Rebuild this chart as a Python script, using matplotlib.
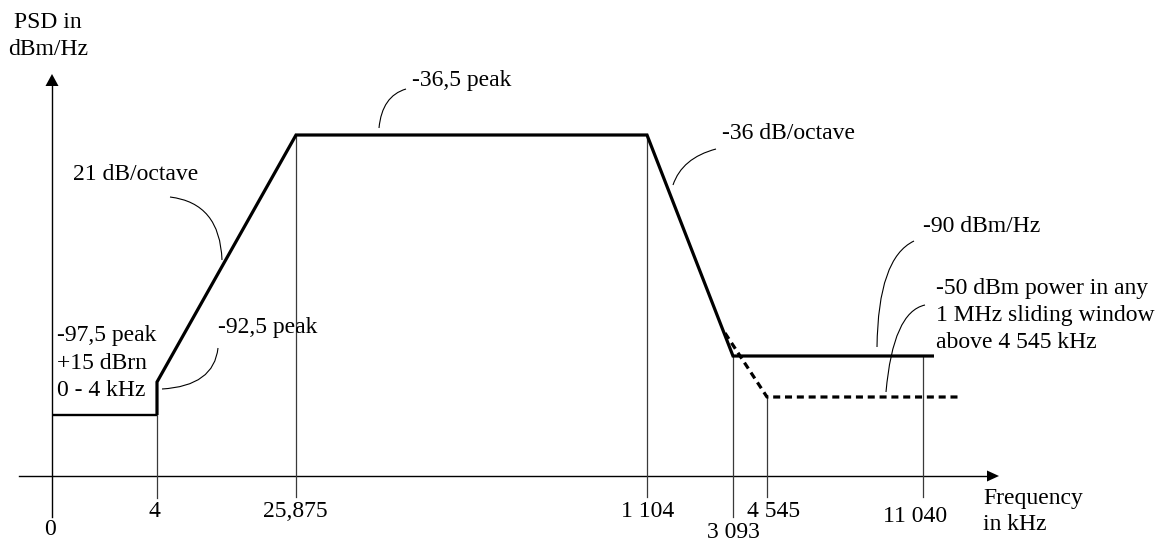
import matplotlib
matplotlib.use("Agg")
import matplotlib.pyplot as plt
from matplotlib.path import Path
from matplotlib.patches import PathPatch

plt.rcParams['font.family'] = ['Liberation Serif', 'DejaVu Serif']

# ---- schematic data (diagram is not to scale; positions in drawing units) ----
freq_labels = ["0", "4", "25,875", "1 104", "3 093", "4 545", "11 040"]
freq_pos = [52, 157, 296, 647, 733, 767, 923]          # schematic x of each frequency
label_dx = [-2, -3, -1, 1, 0, 7, -8]
label_base = [535, 517, 517, 517, 538, 517, 522]

# PSD levels (schematic y, drawing units, downward)
lvl_voice = 415      # -97,5 peak
lvl_step = 382       # -92,5 peak
lvl_peak = 135       # -36,5 peak
lvl_floor = 356      # -90 dBm/Hz
lvl_window = 397     # -50 dBm in 1 MHz window
lvl_dash_start = 333

mask_x = [freq_pos[1], freq_pos[1], freq_pos[2], freq_pos[3], freq_pos[4], 934]
mask_y = [lvl_voice, lvl_step, lvl_peak, lvl_peak, lvl_floor, lvl_floor]
voice_x = [freq_pos[0], freq_pos[1]]
voice_y = [lvl_voice, lvl_voice]
dash_x = [725, freq_pos[5], 962]
dash_y = [lvl_dash_start, lvl_window, lvl_window]

drop_top = [None, lvl_voice, lvl_peak, lvl_peak, lvl_floor, lvl_window, lvl_floor]
drop_bottom = [None, 498, 497, 497, 517, 497, 497]

fig = plt.figure(figsize=(11.6, 5.42), dpi=100)
ax = fig.add_axes([0, 0, 1, 1])
ax.set_xlim(0, 1160)
ax.set_ylim(542, 0)
ax.axis('off')

FS = 17
x_axis_y = 476

# axes
ax.plot([19, 990], [x_axis_y, x_axis_y], color='black', lw=1.0)
ax.fill([987, 999, 987], [x_axis_y - 5.5, x_axis_y, x_axis_y + 5.5], color='black', lw=0)
ax.plot([52, 52], [517, 84], color='black', lw=1.0)
ax.fill([45.5, 52, 58.5], [86, 74, 86], color='black', lw=0)

# drop lines
for xp, t, b in zip(freq_pos, drop_top, drop_bottom):
    if t is None:
        continue
    ax.plot([xp, xp], [t, b], color='#3a3a3a', lw=0.9)

# mask
ax.plot(voice_x, voice_y, color='black', lw=1.7, solid_capstyle='butt')
ax.plot(mask_x, mask_y, color='black', lw=2.3, solid_joinstyle='miter', solid_capstyle='butt')
ax.plot(dash_x, dash_y, color='black', lw=2.3, linestyle=(0, (2.2, 1.5)))

# tick labels
for lab, xp, dx, yb in zip(freq_labels, freq_pos, label_dx, label_base):
    ax.text(xp + dx, yb, lab, ha='center', va='baseline', fontsize=FS)

ax.text(983, 504, "Frequency", ha='left', va='baseline', fontsize=FS)
ax.text(983, 530, "in kHz", ha='left', va='baseline', fontsize=FS)
ax.text(48, 28, "PSD in", ha='center', va='baseline', fontsize=FS)
ax.text(48, 55, "dBm/Hz", ha='center', va='baseline', fontsize=FS)

# annotations
notes = [
    (73, 180, "21 dB/octave"),
    (57, 341, "-97,5 peak"),
    (57, 369, "+15 dBrn"),
    (57, 396, "0 - 4 kHz"),
    (218, 333, "-92,5 peak"),
    (412, 86, "-36,5 peak"),
    (722, 139, "-36 dB/octave"),
    (923, 232, "-90 dBm/Hz"),
    (936, 294, "-50 dBm power in any"),
    (936, 321, "1 MHz sliding window"),
    (936, 348, "above 4 545 kHz"),
]
for x, y, s in notes:
    ax.text(x, y, s, ha='left', va='baseline', fontsize=FS)

# leader curves (quadratic Bezier: start, control, end)
leaders = [
    ((170, 197), (220, 203), (222, 260)),
    ((218, 348), (214, 386), (162, 389)),
    ((406, 89), (382, 96), (379, 128)),
    ((716, 149), (682, 158), (673, 185)),
    ((914, 241), (878, 258), (877, 347)),
    ((925, 305), (893, 312), (886, 392)),
]
for p0, p1, p2 in leaders:
    path = Path([p0, p1, p2], [Path.MOVETO, Path.CURVE3, Path.CURVE3])
    ax.add_patch(PathPatch(path, fill=False, color='black', lw=0.8))

fig.savefig("out.png", dpi=100)
